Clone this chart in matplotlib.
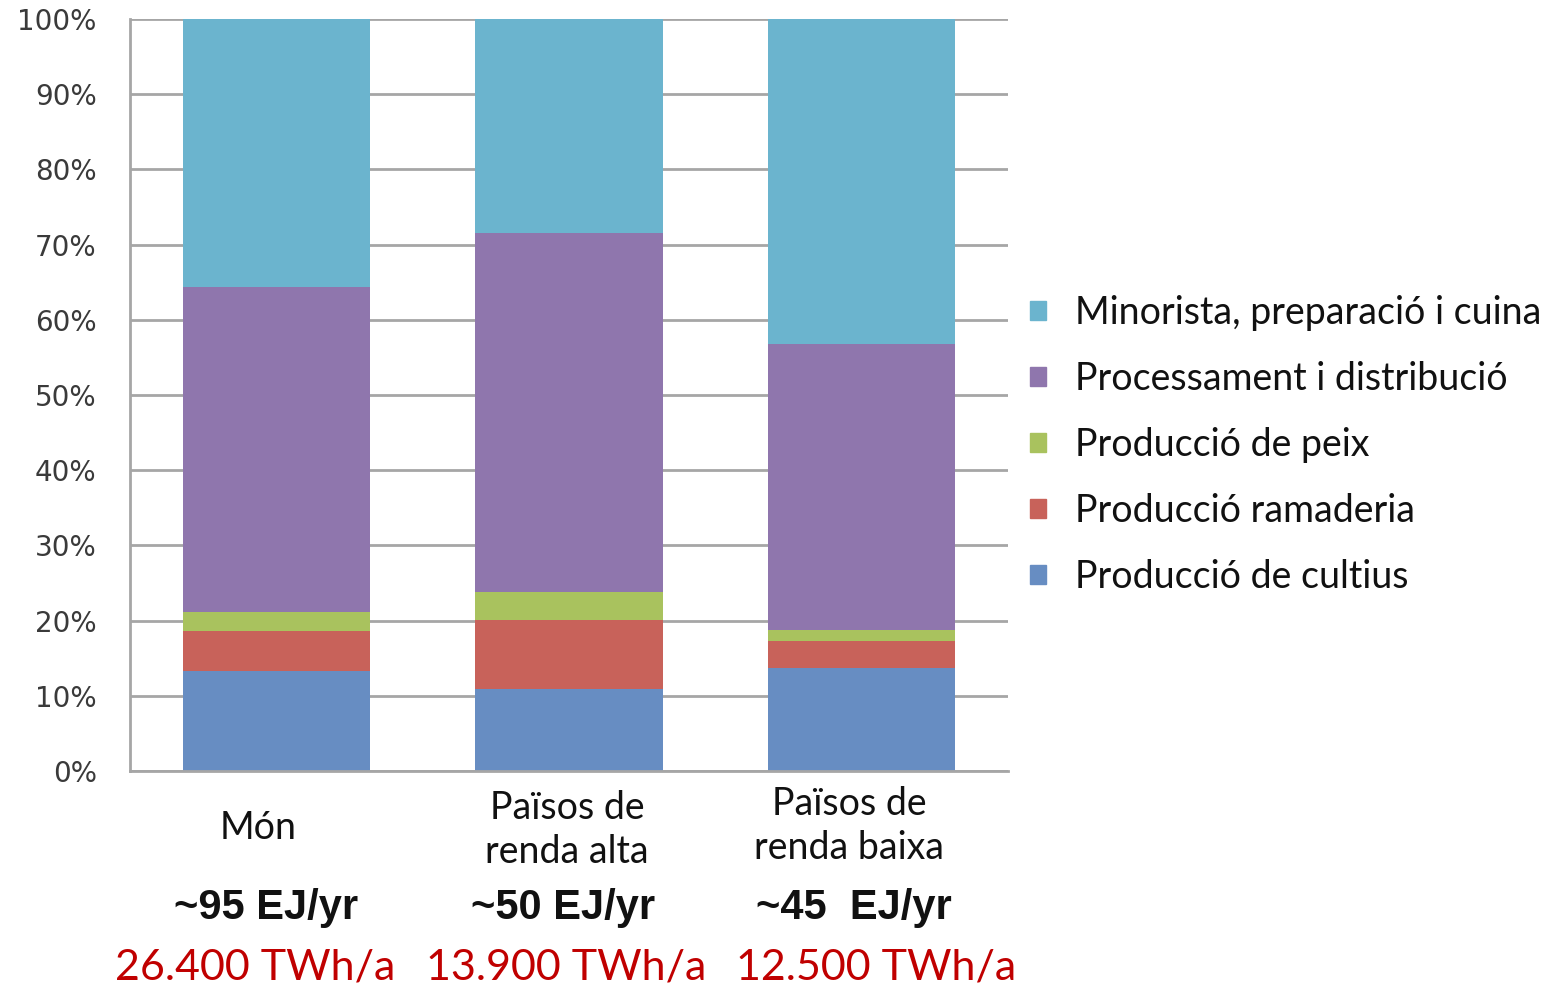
import matplotlib
matplotlib.use("Agg")
import matplotlib.pyplot as plt
import matplotlib.patches as mpatches
from matplotlib.transforms import blended_transform_factory
import numpy as np

# values, % of total energy per stage
categories = ["Món", "Països de\nrenda alta", "Països de\nrenda baixa"]
energy_ej = ["~95 EJ/yr", "~50 EJ/yr", "~45  EJ/yr"]
energy_twh = ["26.400 TWh/a", "13.900 TWh/a", "12.500 TWh/a"]

stages = ["Producció de cultius", "Producció ramaderia", "Producció de peix",
          "Processament i distribució", "Minorista, preparació i cuina"]
cultius = [13.3, 10.9, 13.7]
ramaderia = [5.3, 9.2, 3.6]
peix = [2.6, 3.7, 1.5]
processament = [43.1, 47.7, 38.0]
minorista = [35.7, 28.5, 43.2]

colors = ["#678DC2", "#C8625A", "#A9C25E", "#8F76AD", "#6BB4CE"]

W, H = 1558, 991
fig = plt.figure(figsize=(W / 100, H / 100), dpi=100)
ax_left, ax_w = 130, 878
ax = fig.add_axes([ax_left / W, 220 / H, ax_w / W, 752 / H])

x = np.arange(len(categories))
bottom = np.zeros(len(categories))
handles = []
for vals, col, name in zip([cultius, ramaderia, peix, processament, minorista], colors, stages):
    ax.bar(x, vals, 0.64, bottom=bottom, color=col, linewidth=0, zorder=2)
    bottom += np.array(vals)
    handles.append(mpatches.Patch(color=col, label=name))

ax.set_xlim(-0.5, 2.5)
ax.set_ylim(0, 100)
ax.set_yticks(np.arange(0, 101, 10))
ax.set_yticklabels([f"{v}%" for v in range(0, 101, 10)], fontsize=20,
                   color="#3a3a3a", family="DejaVu Sans")
ax.yaxis.grid(True, color="#A6A6A6", linewidth=2, zorder=0)
ax.tick_params(axis="y", length=0, pad=24)
ax.set_xticks(x)
ax.set_xticklabels([])
ax.tick_params(axis="x", length=0)
for s in ["top", "right"]:
    ax.spines[s].set_visible(False)
for s in ["left", "bottom"]:
    ax.spines[s].set_color("#A6A6A6")
    ax.spines[s].set_linewidth(2)

# text rows under the bars (pixel x centres, as in the original slide)
cat_x = [258, 567, 849]
cat_y = [828, 830, 826]
ej_x = [266, 563, 854]
twh_x = [255, 566, 876]
tr = blended_transform_factory(ax.transAxes, fig.transFigure)
for i in range(len(categories)):
    ax.text((cat_x[i] - ax_left) / ax_w, 1 - cat_y[i] / H, categories[i], transform=tr,
            ha="center", va="center", fontsize=27, family="Lato", color="#111111",
            linespacing=1.25)
    ax.text((ej_x[i] - ax_left) / ax_w, 1 - 908 / H, energy_ej[i], transform=tr,
            ha="center", va="center", fontsize=30, fontweight="bold",
            family="Liberation Sans", color="#111111")
    ax.text((twh_x[i] - ax_left) / ax_w, 1 - 968 / H, energy_twh[i], transform=tr,
            ha="center", va="center", fontsize=31, family="Lato", color="#C00000")

leg = fig.legend(handles[::-1], stages[::-1], loc="center left",
                 bbox_to_anchor=(1030 / W, 1 - 445 / H), frameon=False,
                 prop={"family": "Lato", "size": 27}, handlelength=0.43, handleheight=0.43,
                 handletextpad=0.77, labelspacing=0.8, borderpad=0, borderaxespad=0)
for t in leg.get_texts():
    t.set_color("#111111")

fig.savefig("out.png", dpi=100)
